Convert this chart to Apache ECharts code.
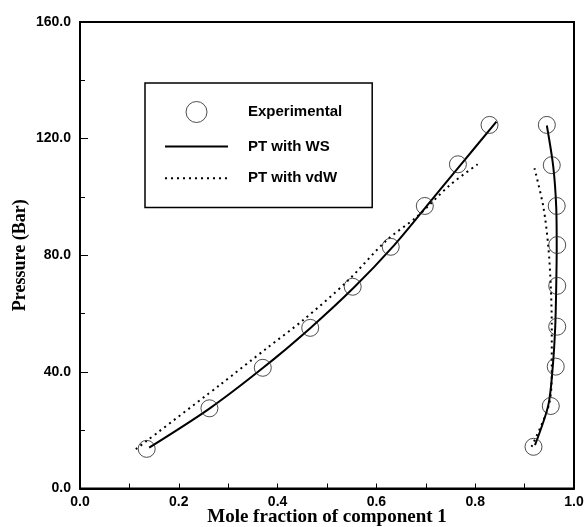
<!DOCTYPE html>
<html>
<head>
<meta charset="utf-8">
<script src="https://cdn.jsdelivr.net/npm/echarts@6/dist/echarts.min.js"></script>
<style>
html,body{margin:0;padding:0;background:#fff;}
#chart{width:584px;height:527px;}
</style>
</head>
<body>
<div id="chart"></div>
<script>
// Experimental data (mole fraction of component 1, pressure in bar)
const expLeftX  = [0.135, 0.262, 0.370, 0.466, 0.552, 0.629, 0.698, 0.765, 0.829];
const expLeftP  = [13.6, 27.5, 41.4, 55.1, 69.2, 82.9, 96.9, 111.2, 124.7];
const expRightX = [0.918, 0.953, 0.963, 0.966, 0.966, 0.966, 0.965, 0.955, 0.945];
const expRightP = [14.3, 28.3, 41.8, 55.5, 69.5, 83.5, 96.9, 110.9, 124.7];

// PT with WS (solid)
const wsLeftX  = [0.140, 0.262, 0.370, 0.466, 0.555, 0.632, 0.700, 0.768, 0.843];
const wsLeftP  = [14.0, 27.4, 41.3, 55.0, 69.0, 82.7, 96.5, 110.5, 125.8];
const wsRightX = [0.921, 0.948, 0.957, 0.962, 0.964, 0.965, 0.964, 0.958, 0.945];
const wsRightP = [14.9, 28.6, 41.8, 55.5, 69.2, 82.9, 96.6, 110.4, 124.5];

// PT with vdW (dotted)
const vdwLeftX  = [0.113, 0.283, 0.378, 0.452, 0.540, 0.621, 0.682, 0.749, 0.805];
const vdwLeftP  = [13.5, 35.5, 48.1, 57.8, 70.9, 85.2, 93.2, 104.1, 111.2];
const vdwRightX = [0.914, 0.950, 0.955, 0.955, 0.953, 0.948, 0.938, 0.920];
const vdwRightP = [14.3, 29.2, 41.8, 55.5, 69.2, 82.9, 96.6, 109.8];

const seriesNames = ['Experimental', 'PT with WS', 'PT with vdW'];
const xTitle = 'Mole fraction of component 1';
const yTitle = 'Pressure (Bar)';

function zip(xs, ys) { return xs.map((x, i) => [x, ys[i]]); }

const chart = echarts.init(document.getElementById('chart'), null, {renderer: 'canvas'});

const sansBold = {fontFamily: 'Liberation Sans', fontWeight: 'bold', color: '#000'};
const wsStyle = {color: '#000', width: 2, type: 'solid'};
const vdwStyle = {color: '#000', width: 2, type: [2, 4]};
const hiddenSymbol = {color: 'transparent', borderColor: 'transparent', borderWidth: 0, opacity: 0};

chart.setOption({
  backgroundColor: '#fff',
  animation: false,
  grid: {left: 80, right: 10, top: 22, bottom: 38.5, show: true, borderColor: '#000', borderWidth: 2,
         containLabel: false, outerBoundsMode: 'none'},
  legend: {
    orient: 'vertical',
    left: 145, top: 83,
    padding: [18, 30, 21, 19],
    borderColor: '#000', borderWidth: 1.5,
    itemWidth: 63, itemHeight: 21, itemGap: 15,
    textStyle: Object.assign({fontSize: 15, padding: [0, 0, 0, 15]}, sansBold),
    data: [
      {name: seriesNames[0], icon: 'circle', itemStyle: {color: 'transparent', borderColor: '#222', borderWidth: 1}},
      {name: seriesNames[1], itemStyle: hiddenSymbol},
      {name: seriesNames[2], itemStyle: hiddenSymbol}
    ]
  },
  xAxis: {
    type: 'value', min: 0, max: 1, interval: 0.2,
    name: xTitle, nameLocation: 'middle', nameGap: 19, nameMoveOverlap: false,
    nameTextStyle: {fontFamily: 'Liberation Serif', fontWeight: 'bold', fontSize: 19, color: '#000'},
    axisLine: {lineStyle: {color: '#000', width: 2}},
    axisTick: {inside: true, length: 5, lineStyle: {color: '#000', width: 1}},
    minorTick: {show: true, splitNumber: 2, length: 5, lineStyle: {color: '#000', width: 1}},
    splitLine: {show: false},
    axisLabel: Object.assign({fontSize: 14, margin: 7, formatter: v => v.toFixed(1)}, sansBold)
  },
  yAxis: {
    type: 'value', min: 0, max: 160, interval: 40,
    name: yTitle, nameLocation: 'middle', nameGap: 51, nameRotate: 90, nameMoveOverlap: false,
    nameTextStyle: {fontFamily: 'Liberation Serif', fontWeight: 'bold', fontSize: 18, color: '#000'},
    axisLine: {lineStyle: {color: '#000', width: 2}},
    axisTick: {inside: true, length: 8, lineStyle: {color: '#000', width: 1}},
    minorTick: {show: true, splitNumber: 2, length: 5, lineStyle: {color: '#000', width: 1}},
    splitLine: {show: false},
    axisLabel: Object.assign({fontSize: 14, margin: 9, formatter: v => v.toFixed(1)}, sansBold)
  },
  series: [
    {name: seriesNames[1], type: 'line', smooth: 0.3, symbol: 'none', lineStyle: wsStyle, itemStyle: {color: '#000'}, data: zip(wsLeftX, wsLeftP), z: 2},
    {name: seriesNames[1], type: 'line', smooth: 0.3, symbol: 'none', lineStyle: wsStyle, itemStyle: {color: '#000'}, data: zip(wsRightX, wsRightP), z: 2},
    {name: seriesNames[2], type: 'line', smooth: 0.3, symbol: 'none', lineStyle: vdwStyle, itemStyle: {color: '#000'}, data: zip(vdwLeftX, vdwLeftP), z: 2},
    {name: seriesNames[2], type: 'line', smooth: 0.3, symbol: 'none', lineStyle: vdwStyle, itemStyle: {color: '#000'}, data: zip(vdwRightX, vdwRightP), z: 2},
    {name: seriesNames[0], type: 'scatter', symbol: 'circle', symbolSize: 17,
     itemStyle: {color: 'transparent', borderColor: '#222', borderWidth: 1},
     data: zip(expLeftX, expLeftP).concat(zip(expRightX, expRightP)), z: 3}
  ]
});
</script>
</body>
</html>
